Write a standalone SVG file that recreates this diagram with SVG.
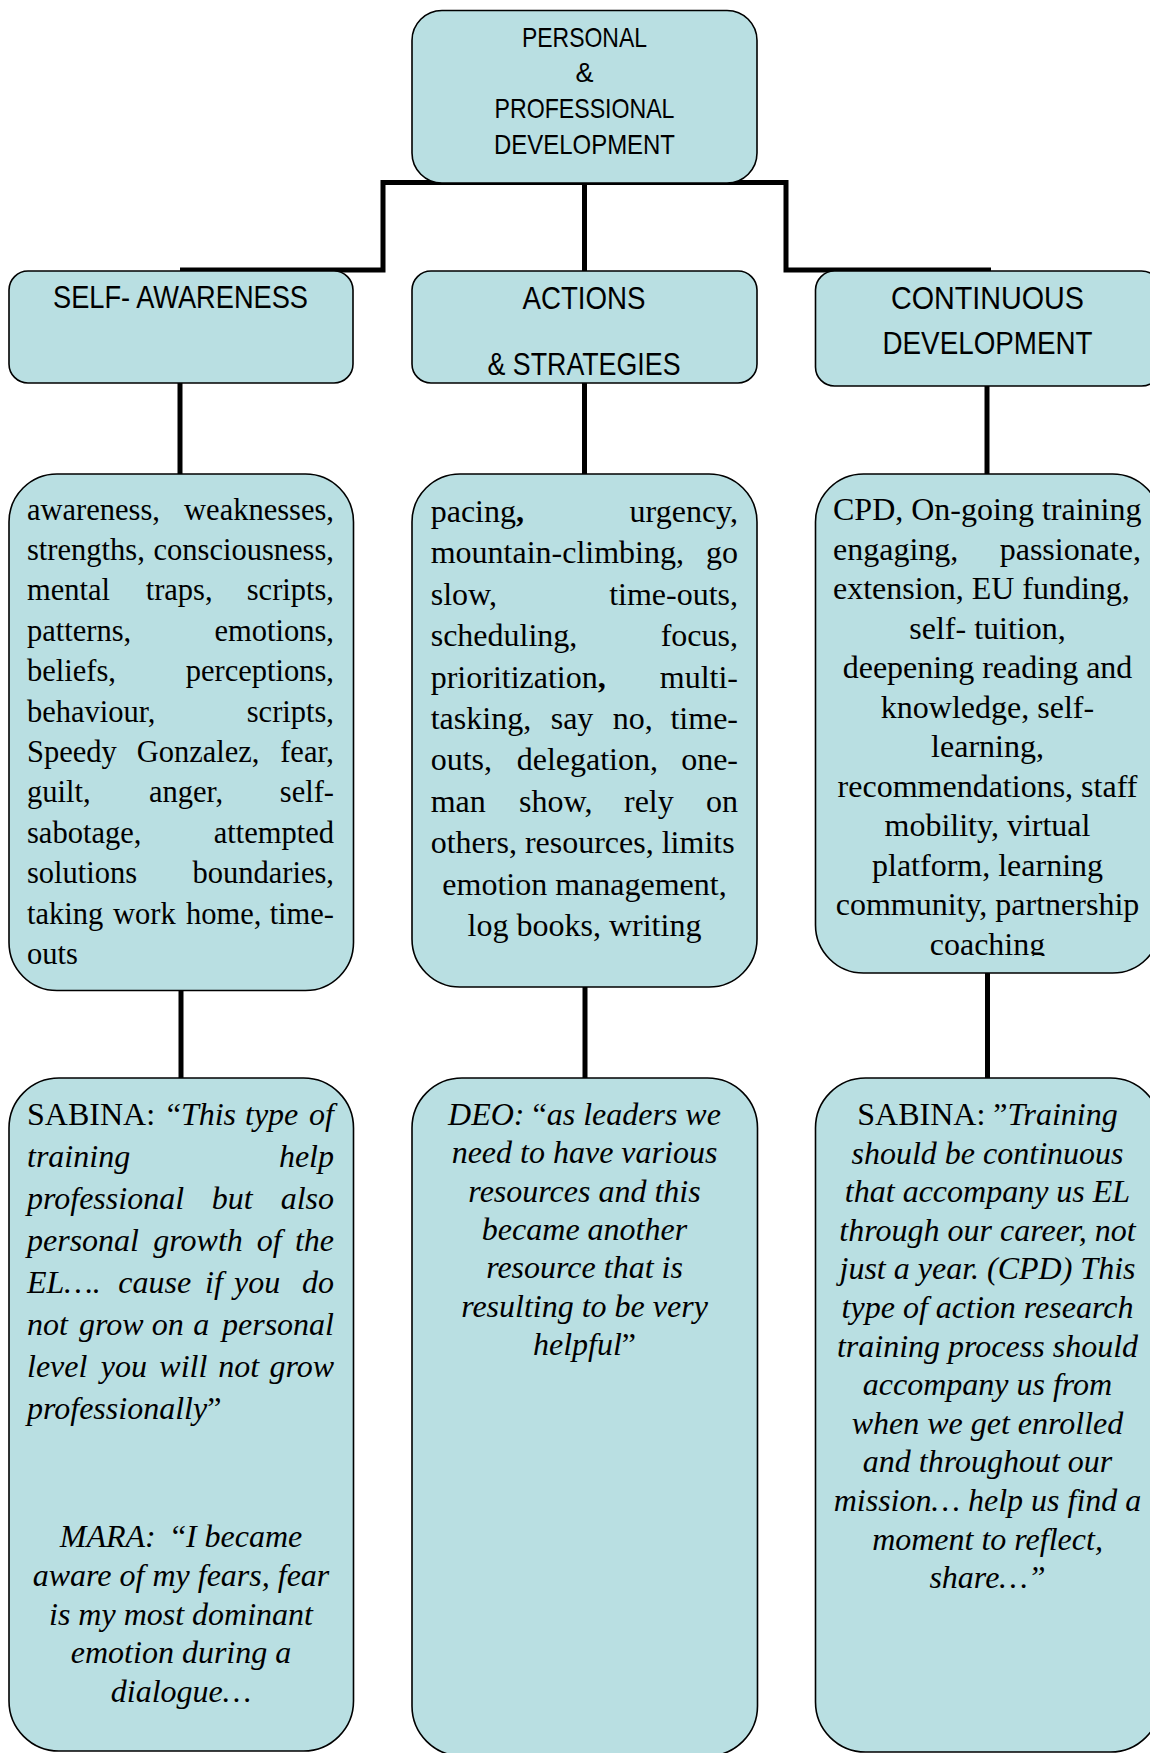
<svg xmlns="http://www.w3.org/2000/svg" width="1150" height="1753" viewBox="0 0 1150 1753">
  <defs>
    <style>
      .box { fill: #b9dfe2; stroke: #000; stroke-width: 1.6; }
      .conn { fill: none; stroke: #000; stroke-width: 5; stroke-linejoin: miter; }
      .head { font-family: "Liberation Sans", Arial, sans-serif; fill: #000; text-anchor: middle; }
      .b3 { font-family: "Liberation Serif", "Times New Roman", serif; font-size: 32px; fill: #000; }
      .b3s { font-size: 30.5px; }
      .b4 { font-family: "Liberation Serif", "Times New Roman", serif; font-size: 32px; font-style: italic; fill: #000; }
      .up { font-style: normal; }
      .bd { font-weight: bold; }
      .e { text-anchor: end; }
      .m { text-anchor: middle; }
    </style>
    <clipPath id="cd-list-clip">
      <rect x="815" y="474" width="345" height="482"/>
    </clipPath>
  </defs>

  <!-- tree connectors, drawn beneath the boxes -->
  <g id="connectors">
    <path class="conn" d="M180 270 H383 V182.5 H786 V270 H991"/>
    <path class="conn" d="M584.5 183 V272"/>
    <path class="conn" d="M180 383 V474"/>
    <path class="conn" d="M584.5 383 V474"/>
    <path class="conn" d="M987 386 V474"/>
    <path class="conn" d="M181 990 V1078"/>
    <path class="conn" d="M585 987 V1078"/>
    <path class="conn" d="M987.5 973 V1078"/>
  </g>

  <!-- root -->
  <g id="node-root">
    <rect class="box" x="412" y="10.5" width="345" height="172.5" rx="30"/>
    <text class="head" font-size="28" x="584.5" y="47" textLength="125" lengthAdjust="spacingAndGlyphs">PERSONAL</text>
    <text class="head" font-size="28" x="584.5" y="82" textLength="18" lengthAdjust="spacingAndGlyphs">&amp;</text>
    <text class="head" font-size="28" x="584.5" y="118" textLength="180" lengthAdjust="spacingAndGlyphs">PROFESSIONAL</text>
    <text class="head" font-size="28" x="584.5" y="154" textLength="181" lengthAdjust="spacingAndGlyphs">DEVELOPMENT</text>
  </g>

  <!-- second level -->
  <g id="node-self-awareness">
    <rect class="box" x="9" y="271" width="344" height="112" rx="19"/>
    <text class="head" font-size="32" x="180.5" y="308" textLength="255" lengthAdjust="spacingAndGlyphs">SELF- AWARENESS</text>
  </g>
  <g id="node-actions">
    <rect class="box" x="412" y="271" width="345" height="112" rx="19"/>
    <text class="head" font-size="32" x="584" y="309" textLength="123" lengthAdjust="spacingAndGlyphs">ACTIONS</text>
    <text class="head" font-size="32" x="584" y="375" textLength="193" lengthAdjust="spacingAndGlyphs">&amp; STRATEGIES</text>
  </g>
  <g id="node-continuous">
    <rect class="box" x="815.5" y="271" width="345" height="115" rx="19"/>
    <text class="head" font-size="32" x="987.5" y="309" textLength="193" lengthAdjust="spacingAndGlyphs">CONTINUOUS</text>
    <text class="head" font-size="32" x="987.5" y="354" textLength="210" lengthAdjust="spacingAndGlyphs">DEVELOPMENT</text>
  </g>

  <!-- third level: keyword lists -->
  <g id="node-self-awareness-list">
    <rect class="box" x="9" y="474" width="344.5" height="516.5" rx="48"/>
    <g class="b3 b3s">
      <text x="27" y="519.5">awareness,</text><text class="e" x="334" y="519.5">weaknesses,</text>
      <text x="27" y="559.9">strengths,</text><text class="e" x="334" y="559.9">consciousness,</text>
      <text x="27" y="600.3">mental</text><text x="145.7" y="600.3">traps,</text><text class="e" x="334" y="600.3">scripts,</text>
      <text x="27" y="640.7">patterns,</text><text class="e" x="334" y="640.7">emotions,</text>
      <text x="27" y="681.1">beliefs,</text><text class="e" x="334" y="681.1">perceptions,</text>
      <text x="27" y="721.5">behaviour,</text><text class="e" x="334" y="721.5">scripts,</text>
      <text x="27" y="761.9">Speedy</text><text x="136.7" y="761.9">Gonzalez,</text><text class="e" x="334" y="761.9">fear,</text>
      <text x="27" y="802.3">guilt,</text><text x="149" y="802.3">anger,</text><text class="e" x="334" y="802.3">self-</text>
      <text x="27" y="842.7">sabotage,</text><text class="e" x="334" y="842.7">attempted</text>
      <text x="27" y="883.1">solutions</text><text class="e" x="334" y="883.1">boundaries,</text>
      <text x="27" y="923.5">taking</text><text x="113" y="923.5">work</text><text x="186" y="923.5">home,</text><text class="e" x="334" y="923.5">time-</text>
      <text x="27" y="963.9">outs</text>
    </g>
  </g>
  <g id="node-actions-list">
    <rect class="box" x="412" y="474" width="345" height="513" rx="48"/>
    <g class="b3">
      <text x="430.7" y="522">pacing<tspan class="bd">,</tspan></text><text class="e" x="738" y="522">urgency,</text>
      <text x="430.7" y="563.4">mountain-climbing,</text><text class="e" x="738" y="563.4">go</text>
      <text x="430.7" y="604.8">slow,</text><text class="e" x="738" y="604.8">time-outs,</text>
      <text x="430.7" y="646.2">scheduling,</text><text class="e" x="738" y="646.2">focus,</text>
      <text x="430.7" y="687.6">prioritization<tspan class="bd">,</tspan></text><text class="e" x="738" y="687.6">multi-</text>
      <text x="430.7" y="729">tasking,</text><text x="550.7" y="729">say</text><text x="612.7" y="729">no,</text><text class="e" x="738" y="729">time-</text>
      <text x="430.7" y="770.4">outs,</text><text x="516.7" y="770.4">delegation,</text><text class="e" x="738" y="770.4">one-</text>
      <text x="430.7" y="811.8">man</text><text x="519" y="811.8">show,</text><text x="624" y="811.8">rely</text><text class="e" x="738" y="811.8">on</text>
      <text x="430.7" y="853.2">others, resources, limits</text>
      <text class="m" x="584.5" y="894.6">emotion management,</text>
      <text class="m" x="584.5" y="936">log books, writing</text>
    </g>
  </g>
  <g id="node-continuous-list">
    <rect class="box" x="815.5" y="474" width="345" height="499" rx="48"/>
    <g class="b3" clip-path="url(#cd-list-clip)">
      <text x="833" y="520">CPD, On-going training</text>
      <text x="833" y="559.5">engaging,</text><text class="e" x="1141" y="559.5">passionate,</text>
      <text x="833" y="599">extension, EU funding,</text>
      <text class="m" x="987.5" y="638.5">self- tuition,</text>
      <text class="m" x="987.5" y="678">deepening reading and</text>
      <text class="m" x="987.5" y="717.5">knowledge, self-</text>
      <text class="m" x="987.5" y="757">learning,</text>
      <text class="m" x="987.5" y="796.5">recommendations, staff</text>
      <text class="m" x="987.5" y="836">mobility, virtual</text>
      <text class="m" x="987.5" y="875.5">platform, learning</text>
      <text class="m" x="987.5" y="915">community, partnership</text>
      <text class="m" x="987.5" y="954.5">coaching</text>
    </g>
  </g>

  <!-- fourth level: quotations -->
  <g id="node-quote-sabina-mara">
    <rect class="box" x="9" y="1078" width="344.5" height="673" rx="50"/>
    <g class="b4">
      <text x="27" y="1125"><tspan class="up">SABINA:</tspan></text><text x="166.7" y="1125"><tspan class="up">“</tspan>This</text><text x="245" y="1125">type</text><text class="e" x="334" y="1125">of</text>
      <text x="27" y="1167">training</text><text class="e" x="334" y="1167">help</text>
      <text x="27" y="1209">professional</text><text x="211.7" y="1209">but</text><text class="e" x="334" y="1209">also</text>
      <text x="27" y="1251">personal</text><text x="153.3" y="1251">growth</text><text x="256.7" y="1251">of</text><text class="e" x="334" y="1251">the</text>
      <text x="27" y="1293">EL….</text><text x="118.3" y="1293">cause</text><text x="205" y="1293">if</text><text x="234" y="1293">you</text><text class="e" x="334" y="1293">do</text>
      <text x="27" y="1335">not</text><text x="79" y="1335">grow</text><text x="151.7" y="1335">on</text><text x="193.3" y="1335">a</text><text class="e" x="334" y="1335">personal</text>
      <text x="27" y="1377">level</text><text x="100.7" y="1377">you</text><text x="159.3" y="1377">will</text><text x="218.3" y="1377">not</text><text class="e" x="334" y="1377">grow</text>
      <text x="27" y="1419">professionally<tspan class="up">”</tspan></text>
      <text class="m" x="181" y="1547">MARA:&#160; <tspan class="up">“</tspan>I became</text>
      <text class="m" x="181" y="1586">aware of my fears, fear</text>
      <text class="m" x="181" y="1625">is my most dominant</text>
      <text class="m" x="181" y="1663">emotion during a</text>
      <text class="m" x="181" y="1702">dialogue…</text>
    </g>
  </g>
  <g id="node-quote-deo">
    <rect class="box" x="412" y="1078" width="345.5" height="678" rx="50"/>
    <g class="b4">
      <text class="m" x="584.5" y="1125">DEO: <tspan class="up">“</tspan>as leaders we</text>
      <text class="m" x="584.5" y="1163.3">need to have various</text>
      <text class="m" x="584.5" y="1201.7">resources and this</text>
      <text class="m" x="584.5" y="1240">became another</text>
      <text class="m" x="584.5" y="1278.3">resource that is</text>
      <text class="m" x="584.5" y="1316.7">resulting to be very</text>
      <text class="m" x="584.5" y="1355">helpful<tspan class="up">”</tspan></text>
    </g>
  </g>
  <g id="node-quote-sabina-cpd">
    <rect class="box" x="815.5" y="1078" width="345" height="674" rx="50"/>
    <g class="b4">
      <text class="m" x="987.5" y="1125"><tspan class="up">SABINA: ”</tspan>Training</text>
      <text class="m" x="987.5" y="1163.6">should be continuous</text>
      <text class="m" x="987.5" y="1202.2">that accompany us EL</text>
      <text class="m" x="987.5" y="1240.8">through our career, not</text>
      <text class="m" x="987.5" y="1279.4">just a year. (CPD) This</text>
      <text class="m" x="987.5" y="1318">type of action research</text>
      <text class="m" x="987.5" y="1356.6">training process should</text>
      <text class="m" x="987.5" y="1395.2">accompany us from</text>
      <text class="m" x="987.5" y="1433.8">when we get enrolled</text>
      <text class="m" x="987.5" y="1472.4">and throughout our</text>
      <text class="m" x="987.5" y="1511">mission… help us find a</text>
      <text class="m" x="987.5" y="1549.6">moment to reflect,</text>
      <text class="m" x="987.5" y="1588.2">share…”</text>
    </g>
  </g>
</svg>
